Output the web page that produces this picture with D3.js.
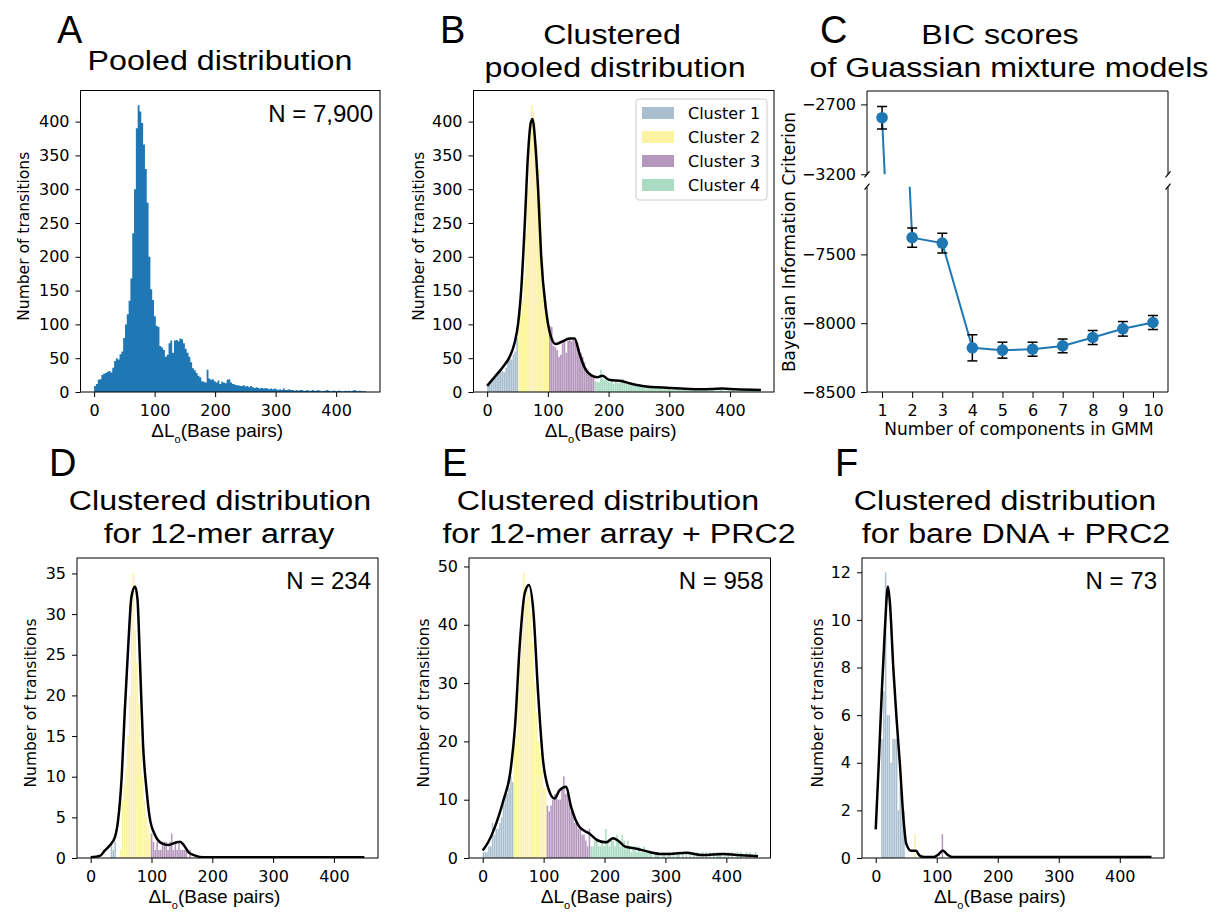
<!DOCTYPE html>
<html>
<head>
<meta charset="utf-8">
<script src="https://cdn.jsdelivr.net/npm/d3@7"></script>
<style>
  body { margin: 0; background: #fff; }
  text { fill: #000; }
</style>
</head>
<body>
<svg id="fig" width="1217" height="912"></svg>
<script>
// ---- data ----
const binWidth = 3;
const xTicks = [0, 100, 200, 300, 400];
const clusterNames = ["Cluster 1", "Cluster 2", "Cluster 3", "Cluster 4"];
const clusterColors = ["#a9bfd0", "#fbf3a2", "#b596bd", "#a9dcc2"];

// pooled histogram (A and B), bins of 3 bp starting at 0
const pooledCounts = [
  9, 12, 18, 19, 25, 27, 28, 30, 31, 29,
  36, 46, 50, 48, 56, 60, 80, 100, 115, 135,
  168, 235, 300, 390, 424, 415, 398, 366, 330, 280,
  200, 152, 136, 112, 98, 96, 68, 66, 62, 52,
  55, 72, 76, 58, 76, 77, 75, 79, 78, 72,
  64, 58, 52, 44, 35, 32, 28, 24, 22, 16,
  15, 14, 33, 20, 18, 19, 16, 14, 17, 12,
  15, 14, 13, 18, 19, 14, 12, 11, 10, 10,
  9, 9, 10, 8, 9, 7, 9, 7, 6, 7,
  6, 5, 6, 5, 6, 5, 4, 5, 4, 5,
  4, 3, 4, 3, 5, 3, 3, 4, 3, 3,
  2, 3, 2, 3, 3, 2, 2, 3, 2, 2,
  3, 2, 2, 3, 2, 1, 2, 2, 3, 2,
  1, 2, 2, 1, 2, 2, 1, 1, 2, 1,
  2, 1, 2, 3, 2, 1, 2, 1, 1, 1
];
const pooledEdges = [50, 103, 177];
const kdeBX = [0, 13, 26, 37, 45, 51, 56, 62, 67, 72, 75, 78, 84, 89, 97, 105, 113, 122, 136, 144,
  152, 160, 171, 182, 190, 201, 223, 234, 256, 300, 354, 387, 409, 451];
const kdeBY = [9, 23, 37, 52, 72, 101, 150, 249, 347, 399, 404, 382, 298, 200, 121, 82, 71, 74, 79, 79,
  57, 37, 25, 22, 24, 18, 16, 13, 9, 6, 4, 5, 4, 3];

// 12-mer array (D)
const arrayCounts = [
  0, 0, 0, 0, 0, 0, 0, 0, 0, 0,
  0, 2, 1, 2, 0, 0, 1, 7, 9, 11,
  15, 20, 31, 35, 28, 24, 19, 14, 10, 7,
  5, 4, 3, 3, 2, 1, 2, 1, 1, 2,
  2, 2, 1, 2, 3, 1, 2, 1, 2, 1,
  1, 1, 1, 0, 1
];
const arrayEdges = [49, 98];
const kdeDX = [0, 16, 23, 32, 40, 45, 51, 56, 62, 67, 73, 77, 81, 86, 92, 97, 106, 117, 128, 140,
  147, 153, 161, 172, 185, 450];
const kdeDY = [0.1, 0.3, 0.9, 1.6, 2.6, 4.6, 10, 18, 26.4, 32.1, 33.4, 31.8, 24.3, 14.1, 8.3, 5, 2.8, 1.8, 1.6, 1.9,
  2.0, 1.6, 0.7, 0.3, 0.1, 0.1];

// 12-mer array + PRC2 (E)
const prcCounts = [
  1, 1, 1, 2, 2, 6, 4, 5, 5, 6,
  7, 10, 11, 11, 12, 14, 13, 19, 21, 28,
  34, 40, 49, 44, 46, 45, 42, 37, 30, 25,
  20, 18, 15, 12, 12, 9, 8, 9, 10, 11,
  11, 10, 10, 12, 14, 11, 11, 10, 8, 8,
  6, 6, 5, 5, 4, 4, 3, 2, 5, 2,
  2, 3, 3, 2, 2, 3, 2, 5, 3, 2,
  3, 3, 2, 4, 3, 2, 4, 3, 2, 3,
  2, 1, 2, 2, 1, 2, 1, 1, 2, 1,
  1, 1, 1, 0, 1, 1, 1, 0, 1, 1,
  0, 1, 1, 0, 1, 0, 1, 1, 0, 1,
  0, 1, 0, 1, 0, 1, 0, 1, 0, 0,
  1, 0, 1, 0, 1, 0, 1, 0, 1, 1,
  1, 0, 1, 0, 1, 0, 1, 0, 0, 1,
  0, 1, 0, 0, 1, 0, 1, 0, 0, 1
];
const prcEdges = [50, 105, 177];
const kdeEX = [0, 9, 20, 34, 45, 53, 61, 69, 76, 83, 91, 99, 107, 118, 126, 137, 145, 159, 175, 189,
  203, 214, 222, 233, 253, 275, 291, 307, 334, 361, 395, 417, 452];
const kdeEY = [1.3, 2.7, 5.3, 9.9, 14.5, 22.5, 36.8, 45.4, 46.8, 42.5, 28.2, 16.8, 12.2, 10.2, 11.6, 12.2, 8.8, 5.3, 4.2, 3.0,
  2.7, 3.4, 3.0, 2.0, 1.6, 1.0, 0.7, 0.7, 0.9, 0.5, 0.7, 0.5, 0.3];

// bare DNA + PRC2 (F)
const bareCounts = [
  0, 0, 0, 5, 7, 12, 6, 6, 4, 5,
  5, 5, 2, 3, 2, 2, 0, 0, 0, 0,
  0, 1, 0, 0, 0, 0, 0, 0, 0, 0,
  0, 0, 0, 0, 0, 0, 1
];
const bareEdges = [50, 100];
const kdeFX = [0, 5, 10, 15, 20, 23, 29, 34, 40, 45, 50, 58, 66, 72, 80, 95, 103, 110, 117, 125, 452];
const kdeFY = [1.2, 4.0, 7.0, 9.6, 11.4, 10.8, 7.9, 5.9, 3.8, 1.8, 0.6, 0.3, 0.3, 0.1, 0.04, 0.04, 0.15, 0.32, 0.15, 0.04, 0.04];

// BIC scores (C)
const gmmComponents = [1, 2, 3, 4, 5, 6, 7, 8, 9, 10];
const bicMean = [-2795, -7378, -7418, -8179, -8196, -8189, -8165, -8104, -8041, -7995];
const bicErr = [80, 70, 72, 95, 58, 51, 50, 51, 53, 51];

// ---- drawing ----
const svg = d3.select("#fig");
const sansTitle = "'Liberation Sans', Arial, sans-serif";
const dejavu = "'DejaVu Sans', sans-serif";
const blue = "#1f77b4";

function label(x, y, str, size, opts = {}) {
  return svg.append("text")
    .attr("transform", `translate(${x},${y}) scale(${opts.sx || 1},1)`)
    .attr("text-anchor", opts.anchor || "middle")
    .attr("font-family", opts.font || sansTitle)
    .attr("font-size", size)
    .text(str);
}

function xLabel(cx, y) {
  const t = svg.append("text")
    .attr("x", cx).attr("y", y)
    .attr("text-anchor", "middle")
    .attr("font-family", sansTitle)
    .attr("font-size", 19);
  t.append("tspan").text("\u0394L");
  t.append("tspan").attr("font-size", 11).attr("dy", 6).text("o");
  t.append("tspan").attr("dy", -6).text("(Base pairs)");
}

function yLabel(x, cy, str, size) {
  svg.append("text")
    .attr("transform", `translate(${x},${cy}) rotate(-90)`)
    .attr("text-anchor", "middle")
    .attr("font-family", dejavu)
    .attr("font-size", size)
    .text(str);
}

function styleAxis(g, size) {
  g.select(".domain").remove();
  g.selectAll(".tick line").attr("stroke", "#000").attr("stroke-width", 1);
  g.selectAll(".tick text").attr("font-family", dejavu).attr("font-size", size).attr("fill", "#000");
}

let clipN = 0;
function histPanel(p) {
  const x = d3.scaleLinear().domain([-22.5, 472.5]).range([p.l, p.r]);
  const y = d3.scaleLinear().domain([0, p.yMax]).range([p.b, p.t]);
  const id = "clip" + (clipN++);
  svg.append("clipPath").attr("id", id)
    .append("rect").attr("x", p.l).attr("y", p.t).attr("width", p.r - p.l).attr("height", p.b - p.t);
  const g = svg.append("g").attr("clip-path", `url(#${id})`);

  const bins = p.counts.map((c, i) => ({ x0: i * binWidth, c }));
  if (!p.edges) {
    // solid histogram as one stepped area
    const pts = bins.concat([{ x0: bins.length * binWidth, c: bins[bins.length - 1].c }]);
    g.append("path").datum(pts)
      .attr("d", d3.area().x(d => x(d.x0)).y0(y(0)).y1(d => y(d.c)).curve(d3.curveStepAfter))
      .attr("fill", blue);
  } else {
    g.selectAll("rect.bar").data(bins.filter(d => d.c > 0)).join("rect")
      .attr("class", "bar")
      .attr("x", d => x(d.x0))
      .attr("width", d => x(d.x0 + binWidth) - x(d.x0) - p.gap)
      .attr("y", d => y(d.c))
      .attr("height", d => y(0) - y(d.c))
      .attr("fill", d => clusterColors[d3.bisectRight(p.edges, d.x0 + binWidth / 2)]);
  }

  if (p.kdeX) {
    const line = d3.line().x(d => x(d[0])).y(d => y(d[1])).curve(d3.curveMonotoneX);
    g.append("path").datum(d3.zip(p.kdeX, p.kdeY))
      .attr("d", line).attr("fill", "none").attr("stroke", "#000").attr("stroke-width", 2.5)
      .attr("stroke-linejoin", "round");
  }

  const ax = svg.append("g").attr("transform", `translate(0,${p.b})`)
    .call(d3.axisBottom(x).tickValues(xTicks).tickSize(5).tickPadding(8));
  styleAxis(ax, 16);
  const ay = svg.append("g").attr("transform", `translate(${p.l},0)`)
    .call(d3.axisLeft(y).tickValues(p.yTicks).tickSize(5).tickPadding(6));
  styleAxis(ay, 16);

  svg.append("rect").attr("x", p.l).attr("y", p.t).attr("width", p.r - p.l).attr("height", p.b - p.t)
    .attr("fill", "none").attr("stroke", "#000").attr("stroke-width", 1);

  if (p.nText) label(p.r - 7, p.t + 31, p.nText, 24, { anchor: "end" });
  yLabel(p.yLabX, (p.t + p.b) / 2 - 5, "Number of transitions", 15.5);
  xLabel((p.l + p.r) / 2 - 13, p.b + 45);
  return { x, y };
}

// A
histPanel({ l: 80.5, r: 380, t: 90.5, b: 392, yMax: 446, yTicks: d3.range(0, 401, 50),
  counts: pooledCounts, nText: "N = 7,900", yLabX: 29 });
// B
histPanel({ l: 473.5, r: 774, t: 90.5, b: 392, yMax: 446, yTicks: d3.range(0, 401, 50),
  counts: pooledCounts, edges: pooledEdges, gap: 0.15, kdeX: kdeBX, kdeY: kdeBY, yLabX: 424 });
// D
histPanel({ l: 77, r: 378, t: 558, b: 858, yMax: 36.9, yTicks: d3.range(0, 36, 5),
  counts: arrayCounts, edges: arrayEdges, gap: 0.3, kdeX: kdeDX, kdeY: kdeDY, nText: "N = 234", yLabX: 36 });
// E
histPanel({ l: 469, r: 770.5, t: 558, b: 858, yMax: 51.45, yTicks: d3.range(0, 51, 10),
  counts: prcCounts, edges: prcEdges, gap: 0.3, kdeX: kdeEX, kdeY: kdeEY, nText: "N = 958", yLabX: 429 });
// F
histPanel({ l: 862, r: 1164, t: 558, b: 858, yMax: 12.6, yTicks: d3.range(0, 13, 2),
  counts: bareCounts, edges: bareEdges, gap: 0.3, kdeX: kdeFX, kdeY: kdeFY, nText: "N = 73", yLabX: 823 });

// legend in B
const leg = svg.append("g");
leg.append("rect").attr("x", 636).attr("y", 99).attr("width", 131).attr("height", 101)
  .attr("rx", 3).attr("fill", "#fff").attr("fill-opacity", 0.8).attr("stroke", "#ccc");
clusterNames.forEach((name, i) => {
  const cy = 113 + i * 24;
  leg.append("rect").attr("x", 642).attr("y", cy - 6).attr("width", 32).attr("height", 12)
    .attr("fill", clusterColors[i]);
  leg.append("text").attr("x", 688).attr("y", cy + 6)
    .attr("font-family", dejavu).attr("font-size", 16).text(name);
});

// C: broken-axis BIC plot
const cL = 867, cR = 1168, cT = 91, cB = 392, breakHi = 174.3, breakLo = 186.7;
const cx = d3.scaleLinear().domain([0.5, 10.5]).range([cL, cR]);
const cyTop = d3.scaleLinear().domain([-3200, -2604]).range([breakHi, cT]);
const cyBot = d3.scaleLinear().domain([-8500, -7008]).range([cB, breakLo]);
const bic = gmmComponents.map((k, i) => ({ k, m: bicMean[i], e: bicErr[i] }));

[[cyTop, cT, breakHi, [-2700, -3200]], [cyBot, breakLo, cB, [-7500, -8000, -8500]]].forEach(([ys, top, bot, ticks]) => {
  const id = "clip" + (clipN++);
  svg.append("clipPath").attr("id", id)
    .append("rect").attr("x", cL).attr("y", top).attr("width", cR - cL).attr("height", bot - top);
  const g = svg.append("g").attr("clip-path", `url(#${id})`);
  g.append("path").datum(bic)
    .attr("d", d3.line().x(d => cx(d.k)).y(d => ys(d.m)))
    .attr("fill", "none").attr("stroke", blue).attr("stroke-width", 2);
  const inDom = bic.filter(d => d.m >= ys.domain()[0] && d.m <= ys.domain()[1]);
  const eb = g.selectAll("g.eb").data(inDom).join("g").attr("class", "eb");
  eb.append("line").attr("x1", d => cx(d.k)).attr("x2", d => cx(d.k))
    .attr("y1", d => ys(d.m - d.e)).attr("y2", d => ys(d.m + d.e)).attr("stroke", "#000").attr("stroke-width", 1.5);
  [1, -1].forEach(s => eb.append("line")
    .attr("x1", d => cx(d.k) - 5).attr("x2", d => cx(d.k) + 5)
    .attr("y1", d => ys(d.m + s * d.e)).attr("y2", d => ys(d.m + s * d.e))
    .attr("stroke", "#000").attr("stroke-width", 1.5));
  g.selectAll("circle").data(inDom).join("circle")
    .attr("cx", d => cx(d.k)).attr("cy", d => ys(d.m)).attr("r", 5.8).attr("fill", blue);

  const ay = svg.append("g").attr("transform", `translate(${cL},0)`)
    .call(d3.axisLeft(ys).tickValues(ticks).tickSize(6).tickPadding(5).tickFormat(d3.format("d")));
  styleAxis(ay, 16);

  // spines
  svg.append("line").attr("x1", cL).attr("x2", cL).attr("y1", top).attr("y2", bot).attr("stroke", "#000");
  svg.append("line").attr("x1", cR).attr("x2", cR).attr("y1", top).attr("y2", bot).attr("stroke", "#000");
});
svg.append("line").attr("x1", cL).attr("x2", cR).attr("y1", cT).attr("y2", cT).attr("stroke", "#000");
svg.append("line").attr("x1", cL).attr("x2", cR).attr("y1", cB).attr("y2", cB).attr("stroke", "#000");
[[cL, breakHi], [cR, breakHi], [cL, breakLo], [cR, breakLo]].forEach(([bx, by]) => {
  svg.append("line").attr("x1", bx - 2.5).attr("y1", by + 3).attr("x2", bx + 2.5).attr("y2", by - 3)
    .attr("stroke", "#000").attr("stroke-width", 1.2);
});
const cax = svg.append("g").attr("transform", `translate(0,${cB})`)
  .call(d3.axisBottom(cx).tickValues(gmmComponents).tickSize(6).tickPadding(7));
styleAxis(cax, 16);
svg.append("text").attr("x", 1019).attr("y", 435).attr("text-anchor", "middle")
  .attr("font-family", dejavu).attr("font-size", 17).text("Number of components in GMM");
yLabel(795, 242, "Bayesian Information Criterion", 17);

// titles and panel letters
const ts = 28, tsx = 1.15;
label(220, 70, "Pooled distribution", ts, { sx: tsx });
label(612, 44, "Clustered", ts, { sx: tsx });
label(615, 77, "pooled distribution", ts, { sx: tsx });
label(1000, 44, "BIC scores", ts, { sx: tsx });
label(1009, 77, "of Guassian mixture models", ts, { sx: tsx });
label(220, 510, "Clustered distribution", ts, { sx: tsx });
label(219, 543, "for 12-mer array", ts, { sx: tsx });
label(608, 510, "Clustered distribution", ts, { sx: tsx });
label(619, 543, "for 12-mer array + PRC2", ts, { sx: tsx });
label(1005, 510, "Clustered distribution", ts, { sx: tsx });
label(1016, 543, "for bare DNA + PRC2", ts, { sx: tsx });

[["A", 57, 43], ["B", 440, 43], ["C", 820, 43], ["D", 49, 476], ["E", 442, 476], ["F", 835, 476]]
  .forEach(([s, x, y]) => label(x, y, s, 38, { anchor: "start" }));
</script>
</body>
</html>
